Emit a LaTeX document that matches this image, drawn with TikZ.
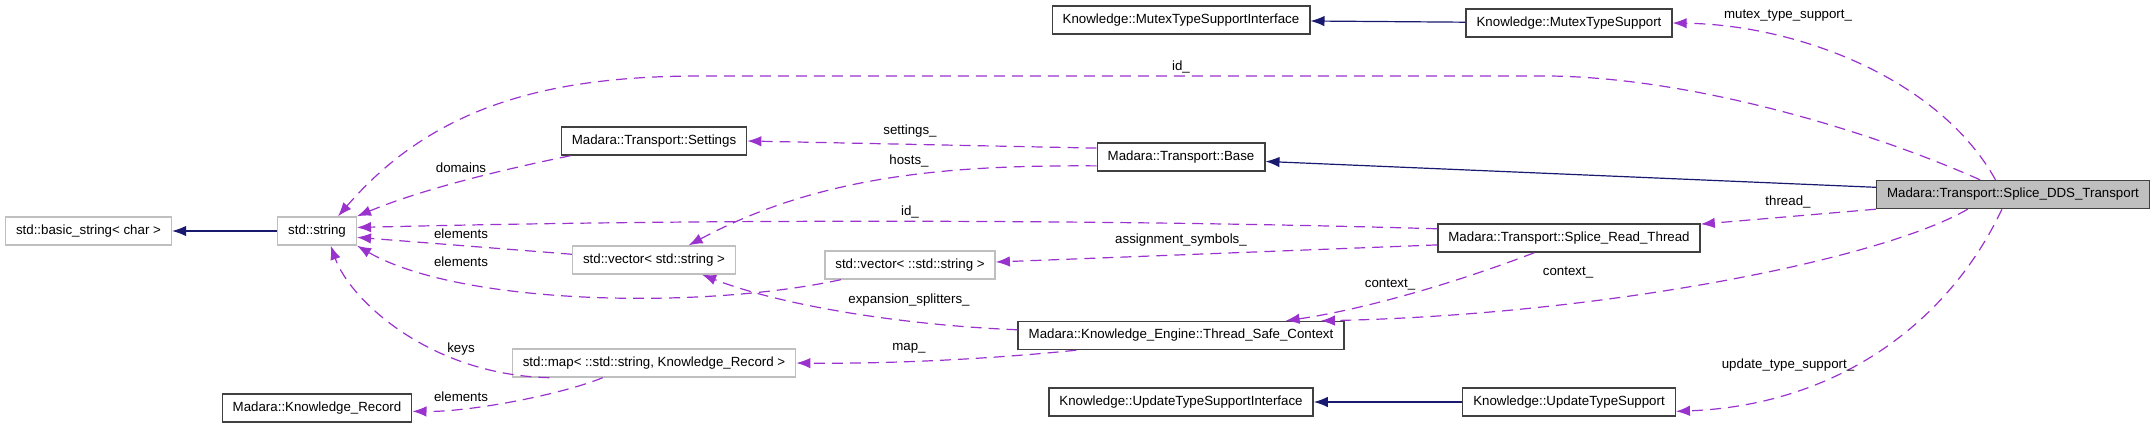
\documentclass[tikz,border=0pt]{standalone}
\usepackage{fontspec}
\setmainfont{Liberation Sans}
\usetikzlibrary{positioning,arrows.meta}
\definecolor{memberedge}{HTML}{9A32CD}
\definecolor{baseedge}{HTML}{191970}
\definecolor{extgray}{HTML}{BFBFBF}

\begin{document}
\begin{tikzpicture}[x=1pt, y=-1pt, on grid,
font=\fontsize{13.3}{16}\selectfont,
cls/.style={draw=black!75, line width=1.4pt, minimum height=28pt,
  inner xsep=10.5pt, inner ysep=0pt},
extcls/.style={cls, draw=extgray},
inh/.style={draw=baseedge, line width=1.2pt, -{Latex[length=14pt,width=10.5pt]}},
member/.style={draw=memberedge, line width=1.2pt, dash pattern=on 11pt off 7pt,
  -{Latex[length=14pt,width=10.5pt]}},
lbl/.style={inner sep=1pt}]
\useasboundingbox (0,0) rectangle (2155,428);
% classes
\node[cls, fill=extgray] (DDS) at (2013,194.5) {Madara::Transport::Splice\_DDS\_Transport};
\node[cls] (RT) [below left=43.5pt and 444pt of DDS] {Madara::Transport::Splice\_Read\_Thread};
\node[cls] (MutexTS) [above left=171.5pt and 444pt of DDS] {Knowledge::MutexTypeSupport};
\node[cls] (UpdTS) [below left=207.5pt and 444pt of DDS] {Knowledge::UpdateTypeSupport};
\node[cls] (Base) [above left=81pt and 388pt of RT] {Madara::Transport::Base};
\node[cls] (MutexI) [above=137pt of Base] {Knowledge::MutexTypeSupportInterface};
\node[cls] (TSC) [below=178.5pt of Base] {Madara::Knowledge\_Engine::Thread\_Safe\_Context};
\node[cls] (UpdI) [below=245pt of Base] {Knowledge::UpdateTypeSupportInterface};
\node[extcls] (vecSS) [above left=70.5pt and 271pt of TSC] {std::vector< ::std::string >};
\node[cls] (Settings) [above left=16pt and 527pt of Base] {Madara::Transport::Settings};
\node[extcls] (vecS) [below=119pt of Settings] {std::vector< std::string >};
\node[extcls] (map) [below=103pt of vecS] {std::map< ::std::string, Knowledge\_Record >};
\node[extcls] (str) [above left=29pt and 337pt of vecS] {std::string};
\node[extcls] (basic) [left=228.5pt of str] {std::basic\_string< char >};
\node[cls] (KR) [below=177pt of str] {Madara::Knowledge\_Record};
% inheritance
\draw[inh] (str) -- (basic);
\draw[inh] (MutexTS) -- (MutexI);
\draw[inh] (UpdTS) -- (UpdI);
\draw[inh] (DDS.177) -- (Base.-3);
% members
\draw[member] (DDS.156) .. controls (1880,135) and (1700,78) .. (1550,76) -- (700,76)
  .. controls (540,76) and (430,110) .. (str.35);
\draw[member] (DDS.140) .. controls (1940,80) and (1800,25) .. (MutexTS.east);
\draw[member] (DDS.south west) -- (RT.6);
\draw[member] (DDS.198) .. controls (1880,260) and (1600,315) .. (TSC.6);
\draw[member] (DDS.233) .. controls (1950,320) and (1840,405) .. (UpdTS.-5);
\draw[member] (Settings.190) .. controls (500,170) and (420,190) .. (str.north east);
\draw[member] (RT.176) .. controls (1100,219) and (700,219) .. (str.5);
\draw[member] (vecS.176) -- (str.-9);
\draw[member] (vecSS.192) .. controls (700,310) and (460,305) .. (str.south east);
\draw[member] (map.188) .. controls (430,375) and (350,300) .. (str.-47);
\draw[member] (map.196) .. controls (560,395) and (470,412) .. (KR.-2);
\draw[member] (Base.174) -- (Settings.east);
\draw[member] (Base.186) .. controls (950,165) and (820,175) .. (vecS.23);
\draw[member] (TSC.178) .. controls (900,325) and (780,305) .. (vecS.-17);
\draw[member] (RT.183) -- (vecSS.2);
\draw[member] (TSC.188) .. controls (1000,358) and (900,364) .. (map.east);
\draw[member] (RT.203) .. controls (1450,285) and (1360,310) .. (TSC.8);
% labels
\node[lbl] (lid) at (1181,67) {id\_};
\node[lbl] (lmutex) at (1788,16) {mutex\_type\_support\_};
\node[lbl] (ldomains) at (461,168) {domains};
\node[lbl] (lsettings) at (910,131) {settings\_};
\node[lbl] (lhosts) at (909,161) {hosts\_};
\node[lbl] (lidrt) at (910,212) {id\_};
\node[lbl] (lelem) at (461,234) {elements};
\node[lbl] (lelemss) at (461,262) {elements};
\node[lbl] (lassign) at (1181,240) {assignment\_symbols\_};
\node[lbl] (lthread) at (1788,202) {thread\_};
\node[lbl] (lexp) at (909,300) {expansion\_splitters\_};
\node[lbl] (lctxrt) at (1390,285) {context\_};
\node[lbl] (lctx) at (1568,273) {context\_};
\node[lbl] (lmap) at (909,348) {map\_};
\node[lbl] (lkeys) at (461,349) {keys};
\node[lbl] (lelemkr) at (461,397) {elements};
\node[lbl] (lupdate) at (1788,365) {update\_type\_support\_};
\end{tikzpicture}
\end{document}
